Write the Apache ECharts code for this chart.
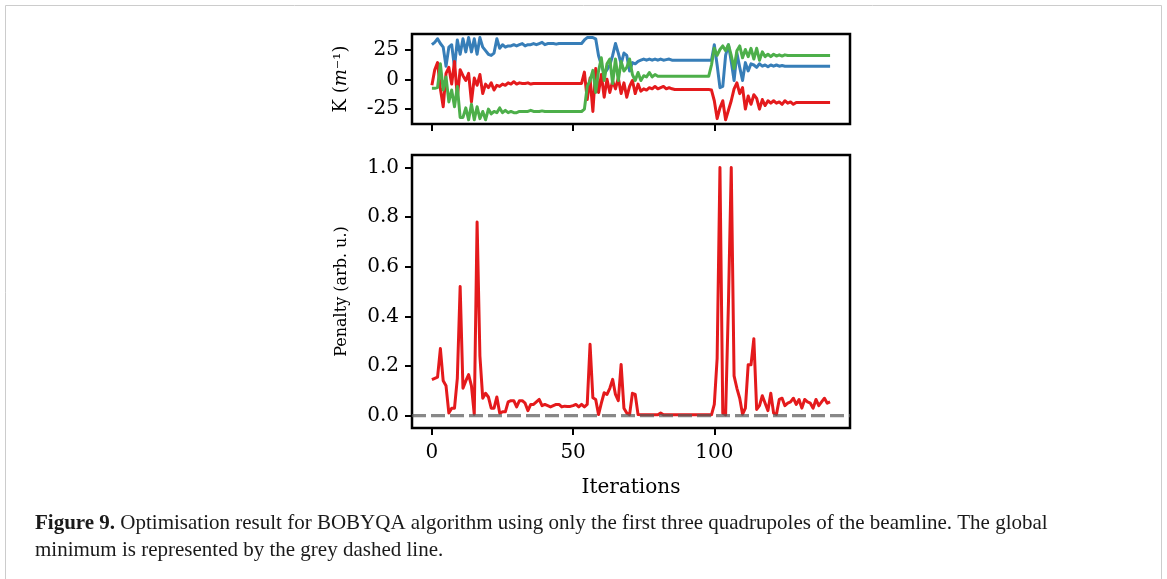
<!DOCTYPE html>
<html><head><meta charset="utf-8">
<script src="https://cdn.jsdelivr.net/npm/echarts@6/dist/echarts.min.js"></script>
<style>html,body{margin:0;padding:0;background:#fff}#c{width:1167px;height:579px}</style>
</head><body><div id="c"></div>
<script>
// K values (m^-1) per iteration, three quadrupoles
const kBlue = [29,31,34,30,27,11,27,29,10,33,
 21,34,23,35,23,34,21,35,27,24,
 21,20,22,34,26,29,27,28,28,29,
 28,29,30,28,29,29,30,29,30,31,
 29,30,30,30,29.5,30,30,30,30,30,
 30,30,30,30,33,35,35,35,34,20,
 12,5,8,12,20,30,22,13,22,20,
 7,14,13,15,16,17,16,17,16,17,
 16,17,16,16.5,17,16,16,16,16,16,
 16,16,16,16,16,16,16,16,16,16,
 29,12,-7,-6,20,29,15,-1,22,10,
 -1,14,7,13,12,10,13,11,12,10.5,
 12,11,12,11,11.5,11,11,11,11,11,
 11,11,11,11,11,11,11,11,11,11,
 11,11];
const kRed = [-5,8,14,-8,-23,5,10,-4,15,-15,
 8,3,-1,5,-19,1,-5,4,-12,-4,
 -7,-3,-9,-5,-6,-4,-5,-3,-4,-2,
 -4,-3,-3.5,-3.5,-3,-4,-3.5,-3.5,-3.5,-3.5,
 -3.5,-3.5,-3.5,-3.5,-3.5,-3.5,-3.5,-3.5,-3.5,-3.5,
 -3.5,-3.5,-3.5,-3.5,6,-17,1,-27,9,-11,
 4,-15,0,-11,-1.5,-8,1,-12,-3,-15,
 -6,-1,-12,-4,-10,-8,-9,-7,-8,-6,
 -8,-7,-6,-8,-7,-8,-8.5,-8.5,-8.5,-8.5,
 -8.5,-8.5,-8.5,-8.5,-8.5,-8.5,-8.5,-8.5,-8.5,-9,
 -18,-33,-24,-18,-34,-26,-18,-8,-3,-12,
 -7,-25,-14,-21,-13,-16,-25,-17,-22,-18,
 -20,-18,-20,-19,-21,-18,-20,-19,-21,-19.5,
 -19.5,-19.5,-19.5,-19.5,-19.5,-19.5,-19.5,-19.5,-19.5,-19.5,
 -19.5,-19.5];
const kGreen = [-7.6,-7.6,-7,13,-9,2,-19,-9,-23,-6,
 -32,-32,-24,-34,-21,-34,-23,-33,-27,-34,
 -25,-29,-27,-28,-24,-28,-26,-28,-27,-28,
 -28,-27,-27,-27,-27,-26,-27,-27,-27,-26.5,
 -27,-27,-27,-27,-27,-27,-27,-27,-27,-27,
 -27,-27,-27,-27,-25,-6,-1,7.5,-11,7,
 18,-1,13,17,-3.5,17,-1,15,7,10,
 17,4,-1,5.7,-1,3,2,5.7,2,4,
 2.5,2.5,2.5,2.5,2.5,2.5,2.5,2.5,2.5,2.5,
 2.5,2.5,2.5,2.5,2.5,2.5,2.5,2.5,2.5,12,
 26,20,25,28,24,29,20,9,24,28,
 18,25,19,26,17,26,16,23,19,21,
 19,21,19.5,20.5,19.5,20.5,20,20,20,20,
 20,20,20,20,20,20,20,20,20,20,
 20,20];
// Penalty (arb. u.) per iteration
const penalty = [0.145,0.15,0.155,0.27,0.14,0.12,0.01,0.03,0.03,0.15,
 0.52,0.11,0.14,0.165,0.12,0.005,0.78,0.24,0.07,0.09,
 0.075,0.03,0.03,0.075,0.01,0.015,0.015,0.055,0.06,0.06,
 0.035,0.06,0.06,0.05,0.02,0.045,0.045,0.055,0.065,0.04,
 0.045,0.04,0.035,0.04,0.045,0.045,0.035,0.038,0.037,0.037,
 0.04,0.045,0.035,0.045,0.035,0.045,0.287,0.072,0.065,0.004,
 0.05,0.092,0.085,0.11,0.146,0.085,0.06,0.206,0.03,0.01,
 0.004,0.09,0.085,0.004,0.003,0.003,0.003,0.003,0.003,0.003,
 0.003,0.01,0.003,0.003,0.003,0.003,0.003,0.003,0.003,0.003,
 0.003,0.003,0.003,0.003,0.003,0.003,0.003,0.003,0.003,0.003,
 0.045,0.23,1.0,0.01,0.003,0.45,1.0,0.16,0.11,0.07,
 0.005,0.03,0.205,0.205,0.31,0.025,0.04,0.08,0.05,0.02,
 0.09,0.01,0.005,0.065,0.07,0.04,0.05,0.055,0.07,0.045,
 0.065,0.03,0.065,0.055,0.05,0.03,0.065,0.04,0.055,0.07,
 0.05,0.055];
const globalMinimum = 0;
const xTicks = [0, 50, 100];
const kTicks = [-25, 0, 25];
const penaltyTicks = [0, 0.2, 0.4, 0.6, 0.8, 1.0];
const xRange = [-7.05, 148.05];
const captionBold = 'Figure 9.';
const captionRest = ' Optimisation result for BOBYQA algorithm using only the first three quadrupoles of the beamline. The global\nminimum is represented by the grey dashed line.';

const FF = 'DejaVu Serif';
const chart = echarts.init(document.getElementById('c'), null, {renderer: 'canvas'});
const tick = (vals) => ({show: true, inside: false, length: 7, customValues: vals, lineStyle: {color: '#000', width: 2}});
const lbl = (vals, fmt, show) => ({show: show, customValues: vals, formatter: fmt, color: '#000', fontFamily: FF, fontSize: 20, margin: 13});
const toPairs = arr => arr.map((v, i) => [i, v]);
const lineS = (name, arr, color, xi, yi) => ({
  name, type: 'line', xAxisIndex: xi, yAxisIndex: yi, data: toPairs(arr), showSymbol: false, symbol: 'none',
  lineStyle: {color, width: 3, join: 'round'}, itemStyle: {color}, animation: false, silent: true
});

chart.setOption({
  backgroundColor: '#fff',
  animation: false,
  grid: [
    {left: 412, top: 34, width: 438, height: 90, show: true, borderColor: '#000', borderWidth: 2.5, backgroundColor: 'transparent'},
    {left: 412, top: 155, width: 438, height: 273, show: true, borderColor: '#000', borderWidth: 2.5, backgroundColor: 'transparent'}
  ],
  xAxis: [
    {gridIndex: 0, type: 'value', min: xRange[0], max: xRange[1], axisLine: {show: false, onZero: false},
     axisTick: tick(xTicks), axisLabel: lbl(xTicks, v => String(v), false), splitLine: {show: false}},
    {gridIndex: 1, type: 'value', min: xRange[0], max: xRange[1], axisLine: {show: false, onZero: false},
     axisTick: tick(xTicks), axisLabel: Object.assign(lbl(xTicks, v => String(v), true), {margin: 15}), splitLine: {show: false},
     name: 'Iterations', nameLocation: 'middle', nameGap: 50,
     nameTextStyle: {fontFamily: FF, fontSize: 20, color: '#000'}}
  ],
  yAxis: [
    {gridIndex: 0, type: 'value', min: -37.5, max: 38, axisLine: {show: false, onZero: false},
     axisTick: tick(kTicks), axisLabel: lbl(kTicks, v => (v < 0 ? '-' + Math.abs(v) : String(v)), true), splitLine: {show: false},
     name: 'K ({i|m}⁻¹)', nameLocation: 'middle', nameGap: 62, nameRotate: 90,
     nameTextStyle: {fontFamily: FF, fontSize: 18, color: '#000', rich: {i: {fontFamily: FF, fontStyle: 'italic', fontSize: 18, color: '#000'}}}},
    {gridIndex: 1, type: 'value', min: -0.05, max: 1.05, axisLine: {show: false, onZero: false},
     axisTick: tick(penaltyTicks), axisLabel: lbl(penaltyTicks, v => v.toFixed(1), true), splitLine: {show: false},
     name: 'Penalty (arb. u.)', nameLocation: 'middle', nameGap: 62, nameRotate: 90,
     nameTextStyle: {fontFamily: FF, fontSize: 16, color: '#000'}}
  ],
  series: [
    lineS('K1', kBlue, '#377eb8', 0, 0),
    lineS('K2', kRed, '#e41a1c', 0, 0),
    lineS('K3', kGreen, '#4daf4a', 0, 0),
    lineS('Penalty', penalty, '#e41a1c', 1, 1),
    {name: 'Global minimum', type: 'line', xAxisIndex: 1, yAxisIndex: 1,
     data: [[xRange[0], globalMinimum], [xRange[1], globalMinimum]], showSymbol: false, symbol: 'none', silent: true,
     lineStyle: {color: 'rgba(90,90,90,0.72)', width: 3.2, type: [14, 5]}, z: 5}
  ],
  graphic: [
    {type: 'rect', shape: {x: 5.5, y: 5.5, width: 1156, height: 640}, style: {fill: 'none', stroke: '#cccccc', lineWidth: 1}, silent: true},
    {type: 'text', left: 35, top: 510, style: {
      text: '{b|' + captionBold + '}' + captionRest,
      fontFamily: 'Liberation Serif', fontSize: 21, lineHeight: 27, fill: '#1a1a1a',
      rich: {b: {fontFamily: 'Liberation Serif', fontSize: 21, fontWeight: 'bold', fill: '#1a1a1a', lineHeight: 27}}
    }}
  ]
});
</script></body></html>
